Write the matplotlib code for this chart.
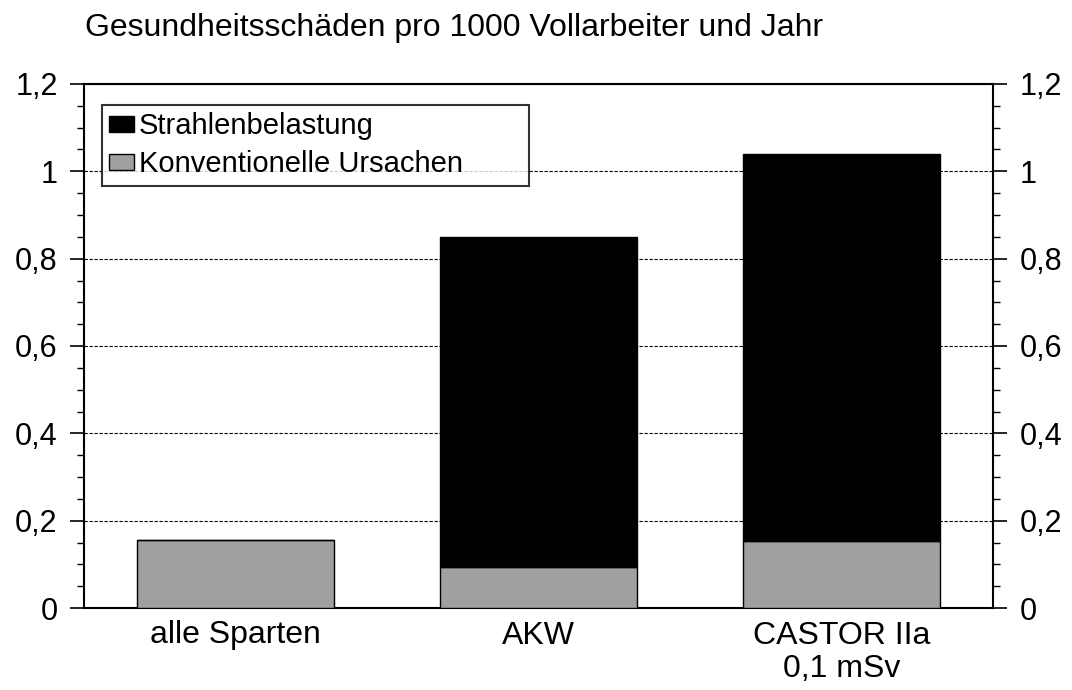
import numpy as np
import matplotlib.pyplot as plt
from matplotlib.ticker import MultipleLocator, FuncFormatter

plt.rcParams['font.family'] = ['Liberation Sans', 'DejaVu Sans']

# Daten
kategorien = ["alle Sparten", "AKW", "CASTOR IIa\n0,1 mSv"]
konventionell = [0.155, 0.093, 0.154]
strahlung = [0.0, 0.757, 0.886]

x = np.arange(len(kategorien))

fig = plt.figure(figsize=(10.72, 6.9), dpi=100)
ax = fig.add_axes([84/1072, 1 - 608/690, 909/1072, 524/690])

ax.bar(x, konventionell, width=0.65, color="#a0a0a0", edgecolor="black",
       linewidth=1.0, label="Konventionelle Ursachen", zorder=3)
ax.bar(x, strahlung, width=0.65, bottom=konventionell, color="black",
       edgecolor="black", linewidth=1.0, label="Strahlenbelastung", zorder=3)

ax.set_xlim(-0.5, 2.5)
ax.set_ylim(0, 1.2)
ax.set_xticks(x)
ax.set_xticklabels(kategorien, fontsize=23, linespacing=1.15)
ax.tick_params(axis="x", length=0, pad=9)

fmt = FuncFormatter(lambda v, p: ("%g" % round(v, 2)).replace(".", ","))
ax.yaxis.set_major_locator(MultipleLocator(0.2))
ax.yaxis.set_minor_locator(MultipleLocator(0.05))
ax.yaxis.set_major_formatter(fmt)
ax.tick_params(axis="y", which="major", direction="out", length=10, width=1.2,
               labelsize=22, left=True, right=True, labelleft=True, labelright=True, pad=9)
ax.tick_params(axis="y", which="minor", direction="out", length=5, width=1.0,
               left=True, right=True)

ax.grid(axis="y", which="major", color="black", linestyle=(0, (3, 1.5)),
        linewidth=0.8, zorder=0)

for s in ax.spines.values():
    s.set_linewidth(1.5)

h, l = ax.get_legend_handles_labels()
leg = ax.legend(h[::-1], l[::-1], loc="upper left", mode="expand",
                bbox_to_anchor=(0.02, 0.5, 0.469, 0.46),
                fontsize=21, frameon=True, fancybox=False, handlelength=0.85,
                handleheight=0.5, handletextpad=0.15, borderpad=0.25,
                labelspacing=0.35, borderaxespad=0)
leg.get_frame().set_edgecolor("black")
leg.get_frame().set_linewidth(1.5)

fig.text(85/1072, 1 - 36/690, "Gesundheitsschäden pro 1000 Vollarbeiter und Jahr",
         fontsize=23, va="baseline", ha="left")

plt.savefig("out.png", dpi=100)
